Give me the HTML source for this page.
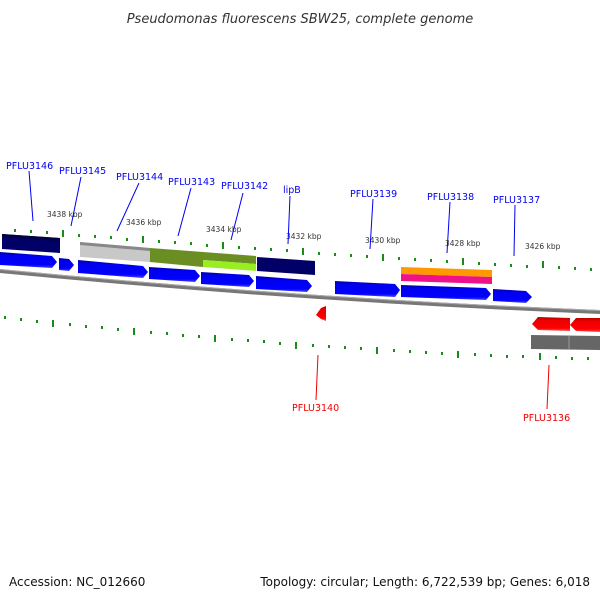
<!DOCTYPE html>
<html><head><style>
body{margin:0;background:#fff;width:600px;height:600px;overflow:hidden}
svg{display:block;font-family:"DejaVu Sans","Liberation Sans",sans-serif}
</style></head><body>
<svg width="600" height="600" viewBox="0 0 600 600">
<defs>
<linearGradient id="bl" x1="0" y1="0" x2="0" y2="1"><stop offset="0" stop-color="#0000aa"/><stop offset="0.25" stop-color="#0000ee"/><stop offset="0.8" stop-color="#0000ff"/><stop offset="1" stop-color="#4444ff"/></linearGradient>
<linearGradient id="rd" x1="0" y1="0" x2="0" y2="1"><stop offset="0" stop-color="#bb0000"/><stop offset="0.25" stop-color="#ee0000"/><stop offset="0.8" stop-color="#ff0000"/><stop offset="1" stop-color="#ff5555"/></linearGradient>
</defs>
<text x="300" y="23" font-size="13" font-style="italic" text-anchor="middle" fill="#333">Pseudomonas fluorescens SBW25, complete genome</text>

<path d="M0,271 Q300,300 600,312" stroke="#777" stroke-width="4" fill="none"/>
<path d="M0,269.5 Q300,298.5 600,310.5" stroke="#aaa" stroke-width="1" fill="none"/>

<polygon points="2,234 60,238 60,253 2,249" fill="#000066"/>
<polygon points="2,234 60,238 60,241 2,237" fill="#000044"/>
<polygon points="80,242 150,248 150,262 80,257" fill="#c8c8c8"/>
<polygon points="80,242 150,248 150,251 80,245" fill="#888"/>
<polygon points="150,248 203,252 203,267 150,262" fill="#6b8e23"/>
<polygon points="203,252 256,256 256,264 203,260" fill="#6b8e23"/>
<polygon points="203,260 256,264 256,271 203,267" fill="#99ee22"/>
<polygon points="257,257 315,261 315,275 257,271" fill="#000066"/>
<polygon points="401,267 492,270 492,277 401,274" fill="#ff9900"/>
<polygon points="401,274 492,277 492,284 401,281" fill="#ee1188"/>

<g fill="url(#bl)">
<polygon points="0,252 52,256 57,262 52,268 0,265"/>
<polygon points="59,258 69,259 74,265 69,271 59,270"/>
<polygon points="78,260 143,266 148,272 143,278 78,273"/>
<polygon points="149,267 195,270 200,276 195,282 149,279"/>
<polygon points="201,272 249,275 254,281 249,287 201,284"/>
<polygon points="256,276 307,280 312,286 307,292 256,289"/>
<polygon points="335,281 395,284 400,290 395,297 335,294"/>
<polygon points="401,285 486,288 491,294 486,300 401,297"/>
<polygon points="493,289 526,291 532,297 526,303 493,301"/>
</g>
<g fill="url(#rd)">
<polygon points="321,308 326,306 326,321 321,319 316,315"/>
<polygon points="538,317 570,318 570,331 538,330 532,324"/>
<polygon points="576,318 600,318 600,332 576,331 570,325"/>
</g>
<polygon points="531,335 600,336 600,350 531,349" fill="#666"/>
<line x1="569" y1="336" x2="569" y2="349" stroke="#999" stroke-width="1"/>

<g fill="#1a8a1a">
<rect x="14" y="229" width="2" height="3"/><rect x="30" y="230" width="2" height="3"/><rect x="46" y="231" width="2" height="3"/><rect x="62" y="230" width="2" height="7"/>
<rect x="78" y="234" width="2" height="3"/><rect x="94" y="235" width="2" height="3"/><rect x="110" y="236" width="2" height="3"/><rect x="126" y="238" width="2" height="3"/><rect x="142" y="236" width="2" height="7"/>
<rect x="158" y="240" width="2" height="3"/><rect x="174" y="241" width="2" height="3"/><rect x="190" y="242" width="2" height="3"/><rect x="206" y="244" width="2" height="3"/><rect x="222" y="242" width="2" height="7"/>
<rect x="238" y="246" width="2" height="3"/><rect x="254" y="247" width="2" height="3"/><rect x="270" y="248" width="2" height="3"/><rect x="286" y="249" width="2" height="3"/><rect x="302" y="248" width="2" height="7"/>
<rect x="318" y="252" width="2" height="3"/><rect x="334" y="253" width="2" height="3"/><rect x="350" y="254" width="2" height="3"/><rect x="366" y="255" width="2" height="3"/><rect x="382" y="254" width="2" height="7"/>
<rect x="398" y="257" width="2" height="3"/><rect x="414" y="258" width="2" height="3"/><rect x="430" y="259" width="2" height="3"/><rect x="446" y="260" width="2" height="3"/><rect x="462" y="258" width="2" height="7"/>
<rect x="478" y="262" width="2" height="3"/><rect x="494" y="263" width="2" height="3"/><rect x="510" y="264" width="2" height="3"/><rect x="526" y="265" width="2" height="3"/><rect x="542" y="261" width="2" height="7"/>
<rect x="558" y="266" width="2" height="3"/><rect x="574" y="267" width="2" height="3"/><rect x="590" y="268" width="2" height="3"/>
</g>
<g fill="#1a8a1a">
<rect x="4" y="316" width="2" height="3"/><rect x="20" y="318" width="2" height="3"/><rect x="36" y="320" width="2" height="3"/><rect x="52" y="320" width="2" height="7"/>
<rect x="69" y="323" width="2" height="3"/><rect x="85" y="325" width="2" height="3"/><rect x="101" y="326" width="2" height="3"/><rect x="117" y="328" width="2" height="3"/><rect x="133" y="328" width="2" height="7"/>
<rect x="150" y="331" width="2" height="3"/><rect x="166" y="332" width="2" height="3"/><rect x="182" y="334" width="2" height="3"/><rect x="198" y="335" width="2" height="3"/><rect x="214" y="335" width="2" height="7"/>
<rect x="231" y="338" width="2" height="3"/><rect x="247" y="339" width="2" height="3"/><rect x="263" y="340" width="2" height="3"/><rect x="279" y="342" width="2" height="3"/><rect x="295" y="342" width="2" height="7"/>
<rect x="312" y="344" width="2" height="3"/><rect x="328" y="345" width="2" height="3"/><rect x="344" y="346" width="2" height="3"/><rect x="360" y="347" width="2" height="3"/><rect x="376" y="347" width="2" height="7"/>
<rect x="393" y="349" width="2" height="3"/><rect x="409" y="350" width="2" height="3"/><rect x="425" y="351" width="2" height="3"/><rect x="441" y="352" width="2" height="3"/><rect x="457" y="351" width="2" height="7"/>
<rect x="474" y="353" width="2" height="3"/><rect x="490" y="354" width="2" height="3"/><rect x="506" y="355" width="2" height="3"/><rect x="522" y="355" width="2" height="3"/><rect x="539" y="353" width="2" height="7"/>
<rect x="555" y="356" width="2" height="3"/><rect x="571" y="357" width="2" height="3"/><rect x="587" y="357" width="2" height="3"/>
</g>

<g font-size="7.5" fill="#333">
<text x="47" y="217">3438 kbp</text>
<text x="126" y="225">3436 kbp</text>
<text x="206" y="232">3434 kbp</text>
<text x="286" y="239">3432 kbp</text>
<text x="365" y="243">3430 kbp</text>
<text x="445" y="246">3428 kbp</text>
<text x="525" y="249">3426 kbp</text>
</g>

<g stroke="#0000ee" stroke-width="1">
<line x1="29" y1="171" x2="33" y2="221"/>
<line x1="81" y1="177" x2="71" y2="226"/>
<line x1="139" y1="183" x2="117" y2="231"/>
<line x1="191" y1="188" x2="178" y2="236"/>
<line x1="243" y1="193" x2="231" y2="240"/>
<line x1="290" y1="196" x2="288" y2="244"/>
<line x1="373" y1="199" x2="370" y2="249"/>
<line x1="450" y1="202" x2="447" y2="253"/>
<line x1="515" y1="205" x2="514" y2="256"/>
</g>
<g font-size="9.5" fill="#0000ee">
<text x="6" y="169">PFLU3146</text>
<text x="59" y="174">PFLU3145</text>
<text x="116" y="180">PFLU3144</text>
<text x="168" y="185">PFLU3143</text>
<text x="221" y="189">PFLU3142</text>
<text x="283" y="193">lipB</text>
<text x="350" y="197">PFLU3139</text>
<text x="427" y="200">PFLU3138</text>
<text x="493" y="203">PFLU3137</text>
</g>
<g stroke="#ee0000" stroke-width="1">
<line x1="318" y1="355" x2="316" y2="400"/>
<line x1="549" y1="365" x2="547" y2="409"/>
</g>
<g font-size="9.5" fill="#ee0000">
<text x="292" y="411">PFLU3140</text>
<text x="523" y="421">PFLU3136</text>
</g>

<text x="9" y="586" font-size="12" fill="#111">Accession: NC_012660</text>
<text x="590" y="586" font-size="12" fill="#111" text-anchor="end">Topology: circular; Length: 6,722,539 bp; Genes: 6,018</text>
</svg>
</body></html>
